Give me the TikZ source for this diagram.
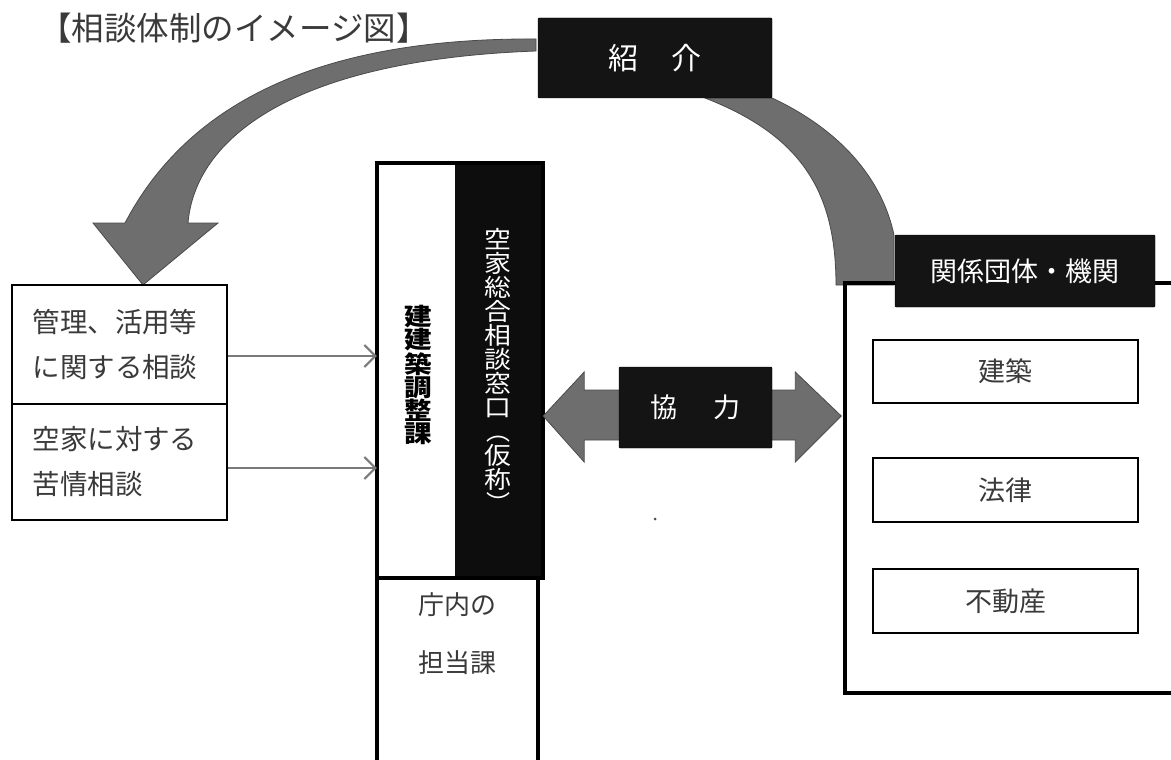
\documentclass[tikz,border=0pt]{standalone}
\usepackage{fontspec}
\setmainfont{Noto Sans CJK JP}
\usetikzlibrary{arrows.meta}
\definecolor{bandgray}{HTML}{6E6E6E}
\definecolor{banddark}{HTML}{4A4A4A}
\definecolor{txtgray}{HTML}{3A3A3A}
\definecolor{arrgray}{HTML}{7A7A7A}
\newcommand{\wc}[1]{\scalebox{1.15}[1]{#1}}
\newcommand{\wcw}[1]{\scalebox{1.12}[1]{#1}}
\begin{document}
\begin{tikzpicture}[x=1pt,y=-1pt,
  blackbox/.style={draw=black, fill=black!92, text=white, inner sep=0pt, rounded corners=1pt},
  plainbox/.style={draw=black, line width=1.5pt, fill=white, inner sep=0pt},
  band/.style={fill=bandgray, draw=banddark, line width=0.8pt},
  thinarrow/.style={draw=arrgray, line width=2pt, -{Straight Barb[length=11pt,width=22pt,line width=2pt]}},
]
\clip (0,0) rectangle (1171,760);
\fill[white] (0,0) rectangle (1171,760);

% curved bands (behind boxes)
\path[band] (536,39) .. controls (360,38) and (200,80) .. (125,223)
  -- (93,223) -- (143,285) -- (218,223) -- (188,223)
  .. controls (195,140) and (290,60) .. (536,51) -- cycle;
\path[band] (705,98) .. controls (800,135) and (836,190) .. (836,285)
  -- (894,285) -- (894,235) .. controls (880,170) and (830,125) .. (772,98) -- cycle;

% title
\node[anchor=west, inner sep=0pt, text=txtgray, font=\fontsize{32.5}{35}\selectfont] (title) at (39,28) {【相談体制のイメージ図】};

% introduction box
\node[blackbox, minimum width=234pt, minimum height=80pt, font=\fontsize{30}{32}\selectfont] (shoukai) at (655,58) {紹\hspace{1.1em}介};

% right organisation frame
\node[draw=black, line width=3.5pt, minimum width=355pt, minimum height=410pt, inner sep=0pt] (org) at (1022.5,488) {};
\node[blackbox, minimum width=260pt, minimum height=72pt, font=\fontsize{27}{30}\selectfont] (kankei) at (1025,271) {関係団体・機関};
\node[plainbox, minimum width=265pt, minimum height=63pt, text=txtgray, font=\fontsize{27}{30}\selectfont] (b1) at (1005.5,371.5) {建築};
\node[plainbox, minimum width=265pt, minimum height=64pt, text=txtgray, font=\fontsize{27}{30}\selectfont] (b2) at (1005.5,490) {法律};
\node[plainbox, minimum width=265pt, minimum height=64pt, text=txtgray, font=\fontsize{27}{30}\selectfont] (b3) at (1005.5,601) {不動産};

% central column
\node[fill=black!95, minimum width=88pt, minimum height=415pt, inner sep=0pt] (window) at (499,370.5) {};
\node[minimum width=78pt, minimum height=415pt, inner sep=0pt] (kenchiku) at (416,370.5) {};
\draw[line width=4pt] (kenchiku.north west) rectangle (window.south east);
\node[draw=black, line width=4pt, minimum width=161pt, minimum height=192pt, inner sep=0pt] (chonai) at (457.5,674) {};
\node[text=txtgray, font=\fontsize{26}{58}\selectfont, align=center, inner sep=0pt] (chonaitxt) at (457,634) {庁内の\\担当課};
\node[font=\bfseries\fontsize{24}{23}\selectfont, align=center, inner sep=0pt] (kentxt) at (418,375) {\wc{建}\\\wc{建}\\\wc{築}\\\wc{調}\\\wc{整}\\\wc{課}};
\node[text=white, font=\fontsize{24}{24}\selectfont, align=center, inner sep=0pt] (madotxt) at (498,370) {\wcw{空}\\\wcw{家}\\\wcw{総}\\\wcw{合}\\\wcw{相}\\\wcw{談}\\\wcw{窓}\\\wcw{口}\\︵\\\wcw{仮}\\\wcw{称}\\︶};

% left consultation boxes
\node[plainbox, minimum width=215pt, minimum height=119pt, text=txtgray, font=\fontsize{27.5}{45}\selectfont, align=left, text width=174pt, inner xsep=20.5pt] (q1) at (119.5,344.5) {管理、活用等\\に関する相談};
\node[plainbox, minimum width=215pt, minimum height=116pt, text=txtgray, font=\fontsize{27.5}{45}\selectfont, align=left, text width=174pt, inner xsep=20.5pt] (q2) at (119.5,462) {空家に対する\\苦情相談};

\coordinate (a1) at ([yshift=-11.5pt]q1.east);
\coordinate (a2) at ([yshift=-6pt]q2.east);
\draw[thinarrow] (a1) -- (a1 -| kenchiku.west);
\draw[thinarrow] (a2) -- (a2 -| kenchiku.west);

% cooperation double arrow
\coordinate (yline) at (0,416);
\coordinate (tipL) at (window.east |- yline);
\coordinate (tipR0) at (org.west |- yline);
\coordinate (tipR) at ([xshift=-2pt]tipR0);
\path[band] (tipL) -- ([shift={(41,-44)}]tipL) -- ([shift={(41,-26)}]tipL)
  -- ([shift={(-46,-26)}]tipR) -- ([shift={(-46,-44)}]tipR) -- (tipR)
  -- ([shift={(-46,46)}]tipR) -- ([shift={(-46,24)}]tipR)
  -- ([shift={(41,24)}]tipL) -- ([shift={(41,46)}]tipL) -- cycle;
\node[blackbox, minimum width=153pt, minimum height=81pt, font=\fontsize{27}{30}\selectfont] (kyo) at (695.5,407.5) {協\hspace{1.3em}力};

% speck
\fill[black!70] (655,519) circle (1.5pt);
\end{tikzpicture}
\end{document}
